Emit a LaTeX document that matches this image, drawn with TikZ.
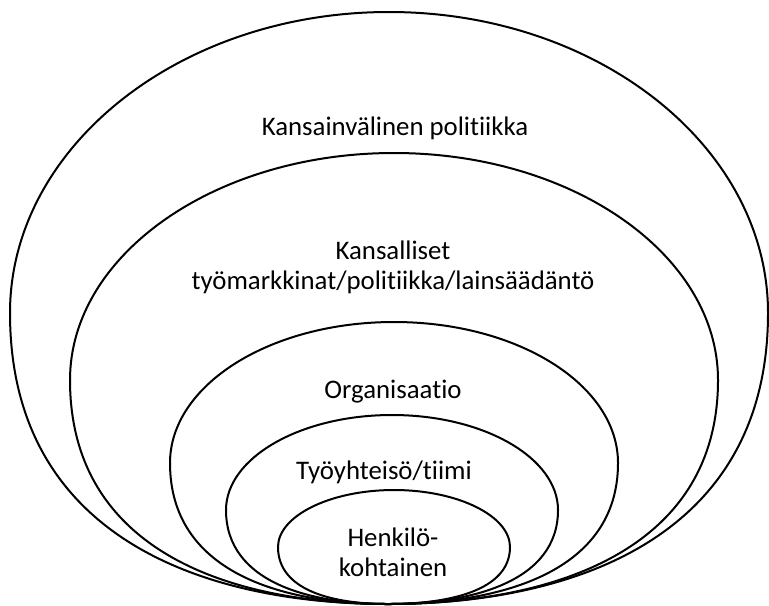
\documentclass[tikz,border=0pt]{standalone}
\usepackage{fontspec}
\setmainfont[Ligatures=NoCommon]{Carlito}
\tikzset{
  ring/.style={line width=1pt, black},
  label/.style={font=\fontsize{13.4}{15}\selectfont, align=center, inner sep=0pt}
}

\begin{document}
\begin{tikzpicture}[x=0.5pt,y=-0.5pt]
          \useasboundingbox (0,0) rectangle (769,605);

          % International level (outer ring)
          \draw[ring] (388,604) .. controls (203,604) and (10,537) .. (10,313)
            .. controls (10,147) and (180,12) .. (389,12)
            .. controls (598,12) and (768,147) .. (768,313)
            .. controls (768,537) and (574,604) .. (388,604);

          % National level
          \draw[ring] (388,604) .. controls (232,604) and (70,552) .. (70,380)
            .. controls (70,255) and (215,153) .. (394,153)
            .. controls (573,153) and (718,255) .. (718,380)
            .. controls (718,552) and (550,604) .. (388,604);

          % Organisation
          \draw[ring] (388,604) .. controls (281,604) and (170,572) .. (170,463)
            .. controls (170,385) and (270,322) .. (394,322)
            .. controls (518,322) and (618,385) .. (618,463)
            .. controls (618,572) and (501,604) .. (388,604);

          % Team
          \draw[ring] (388,604) .. controls (309,604) and (226,582) .. (226,510)
            .. controls (226,458) and (300,415) .. (392,415)
            .. controls (484,415) and (558,458) .. (558,510)
            .. controls (558,582) and (471,604) .. (388,604);

          % Individual (inner ring)
          \draw[ring] (388,604) .. controls (334,604) and (278,591) .. (278,547)
            .. controls (278,516) and (330,490) .. (394,490)
            .. controls (458,490) and (510,516) .. (510,547)
            .. controls (510,591) and (448,604) .. (388,604);

          \node[label] (intl) at (395,128) {Kansainvälinen politiikka};
          \node[label] (natl) at (393,267) {Kansalliset\\työmarkkinat/politiikka/lainsäädäntö};
          \node[label] (org) at (393,392) {Organisaatio};
          \node[label] (team) at (384,472) {Työyhteisö/tiimi};
          \node[label] (indiv) at (393,552) {Henkilö-\\kohtainen};
        \end{tikzpicture}
\end{document}
